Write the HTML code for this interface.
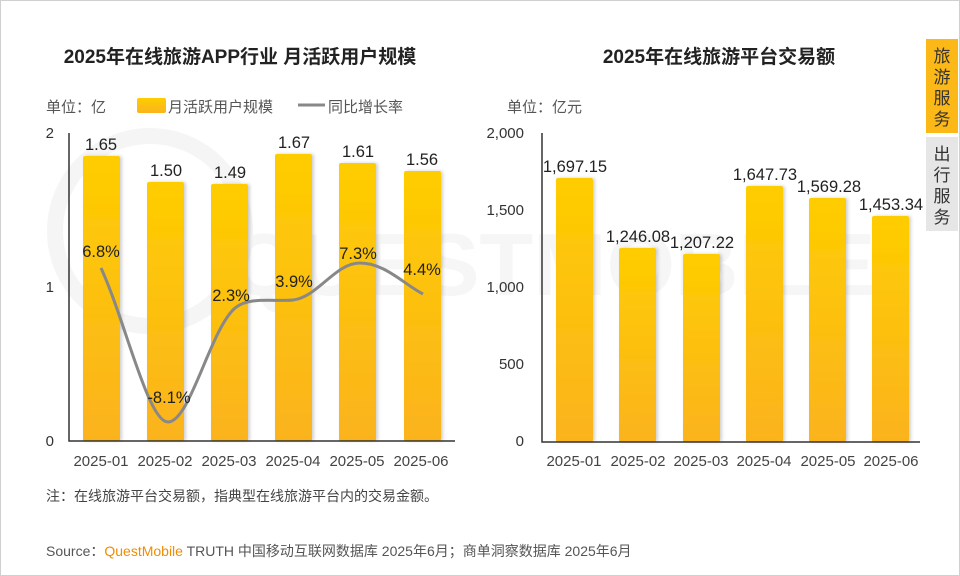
<!DOCTYPE html>
<html><head><meta charset="utf-8"><style>
body{margin:0;width:960px;height:576px;background:#fff;overflow:hidden;font-family:"Liberation Sans","Noto Sans CJK SC",sans-serif}
</style></head><body>
<svg width="960" height="576" xmlns="http://www.w3.org/2000/svg" style="position:absolute;left:0;top:0;font-family:'Liberation Sans','Noto Sans CJK SC',sans-serif">
<defs>
<linearGradient id="g" x1="0" y1="0" x2="0" y2="1"><stop offset="0" stop-color="#fecd00"/><stop offset="1" stop-color="#fbb31e"/></linearGradient>
<filter id="s" x="-20%" y="-5%" width="150%" height="110%"><feDropShadow dx="2" dy="0" stdDeviation="1.5" flood-color="#000" flood-opacity="0.18"/></filter>
</defs>
<rect x="0.5" y="0.5" width="959" height="575" fill="none" stroke="#d0d0d0"/>
<circle cx="150" cy="231" r="95" fill="none" stroke="#f5f5f5" stroke-width="16"/>
<text x="230" y="295" font-size="88" font-weight="bold" fill="#f6f6f6">QUESTMOBILE</text>
<text x="240" y="63" font-size="19" font-weight="bold" text-anchor="middle" fill="#222">2025年在线旅游APP行业 月活跃用户规模</text>
<text x="719" y="63" font-size="19" font-weight="bold" text-anchor="middle" fill="#222">2025年在线旅游平台交易额</text>
<text x="46" y="112" font-size="15" fill="#555">单位：亿</text>
<rect x="137" y="98" width="29" height="15" rx="2" fill="url(#g)"/>
<text x="168" y="112" font-size="15" fill="#555">月活跃用户规模</text>
<line x1="298" y1="105" x2="325" y2="105" stroke="#888" stroke-width="3"/>
<text x="328" y="112" font-size="15" fill="#555">同比增长率</text>
<text x="507" y="112" font-size="15" fill="#555">单位：亿元</text>
<g font-size="15" fill="#333" text-anchor="end">
<text x="54" y="138">2</text><text x="54" y="292">1</text><text x="54" y="446">0</text>
<text x="524" y="138">2,000</text><text x="524" y="215">1,500</text><text x="524" y="292">1,000</text><text x="524" y="369">500</text><text x="524" y="446">0</text>
</g>
<g fill="url(#g)" filter="url(#s)">
<rect x="83" y="156" width="37" height="285" rx="2"/>
<rect x="147" y="182" width="37" height="259" rx="2"/>
<rect x="211" y="184" width="37" height="257" rx="2"/>
<rect x="275" y="154" width="37" height="287" rx="2"/>
<rect x="339" y="163" width="37" height="278" rx="2"/>
<rect x="404" y="171" width="37" height="270" rx="2"/>
<rect x="556" y="178" width="37" height="264" rx="2"/>
<rect x="619" y="248" width="37" height="194" rx="2"/>
<rect x="683" y="254" width="37" height="188" rx="2"/>
<rect x="746" y="186" width="37" height="256" rx="2"/>
<rect x="809" y="198" width="37" height="244" rx="2"/>
<rect x="872" y="216" width="37" height="226" rx="2"/>
</g>
<path d="M69 133V441H455M542 133V442H920" fill="none" stroke="#333" stroke-width="1.5"/>
<g font-size="16.5" fill="#222" text-anchor="middle">
<text x="101" y="150">1.65</text><text x="166" y="176">1.50</text><text x="230" y="178">1.49</text><text x="294" y="148">1.67</text><text x="358" y="157">1.61</text><text x="422" y="165">1.56</text>
<text x="575" y="172">1,697.15</text><text x="638" y="242">1,246.08</text><text x="702" y="248">1,207.22</text><text x="765" y="180">1,647.73</text><text x="829" y="192">1,569.28</text><text x="891" y="210">1,453.34</text>
</g>
<path d="M101 268C125 320 148 422 168 422C190 422 210 330 235 308C250 296 275 302 293 300C318 297 335 263 360 263C385 263 405 285 423 294" fill="none" stroke="#888" stroke-width="3"/>
<g font-size="16.5" fill="#222" text-anchor="middle">
<text x="101" y="257">6.8%</text><text x="169" y="403">-8.1%</text><text x="231" y="301">2.3%</text><text x="294" y="287">3.9%</text><text x="358" y="259">7.3%</text><text x="422" y="275">4.4%</text>
</g>
<g font-size="15" fill="#444" text-anchor="middle">
<text x="101" y="466">2025-01</text><text x="165" y="466">2025-02</text><text x="229" y="466">2025-03</text><text x="293" y="466">2025-04</text><text x="357" y="466">2025-05</text><text x="421" y="466">2025-06</text>
<text x="574" y="466">2025-01</text><text x="638" y="466">2025-02</text><text x="701" y="466">2025-03</text><text x="764" y="466">2025-04</text><text x="828" y="466">2025-05</text><text x="891" y="466">2025-06</text>
</g>
<text x="46" y="501" font-size="14" fill="#444">注：在线旅游平台交易额，指典型在线旅游平台内的交易金额。</text>
<text x="46" y="556" font-size="14" fill="#555">Source：<tspan fill="#f08c00">QuestMobile</tspan> TRUTH 中国移动互联网数据库 2025年6月；商单洞察数据库 2025年6月</text>
<rect x="926" y="39" width="32" height="94" fill="#fbb817"/>
<rect x="926" y="137" width="32" height="94" fill="#e6e6e6"/>
<g font-size="17" fill="#333" text-anchor="middle">
<text x="942" y="62">旅</text><text x="942" y="83">游</text><text x="942" y="104">服</text><text x="942" y="125">务</text>
<text x="942" y="160">出</text><text x="942" y="181">行</text><text x="942" y="202">服</text><text x="942" y="223">务</text>
</g>
</svg>
</body></html>
